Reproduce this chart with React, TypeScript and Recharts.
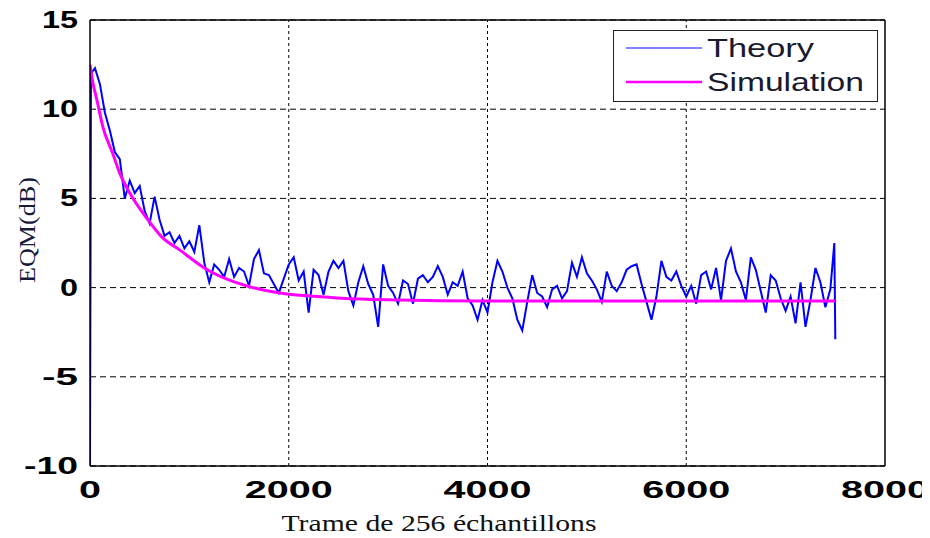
import React from "react";
import { LineChart, Line, XAxis, YAxis, CartesianGrid, ReferenceLine, Legend } from "recharts";

// Theory curve (noisy)
const theoryX = [
  0, 10, 50, 100, 150, 200, 250, 300, 350, 400, 450, 500, 550, 600, 650, 700, 750, 800, 850, 900,
  950, 1000, 1050, 1100, 1150, 1200, 1250, 1300, 1350, 1400, 1450, 1500, 1550, 1600, 1650, 1700,
  1750, 1800, 1850, 1900, 1950, 2000, 2050, 2100, 2150, 2200, 2250, 2300, 2350, 2400, 2450, 2500,
  2550, 2600, 2650, 2700, 2750, 2800, 2850, 2900, 2950, 3000, 3050, 3100, 3150, 3200, 3250, 3300,
  3350, 3400, 3450, 3500, 3550, 3600, 3650, 3700, 3750, 3800, 3850, 3900, 3950, 4000, 4050, 4100,
  4150, 4200, 4250, 4300, 4350, 4400, 4450, 4500, 4550, 4600, 4650, 4700, 4750, 4800, 4850, 4900,
  4950, 5000, 5050, 5100, 5150, 5200, 5250, 5300, 5350, 5400, 5450, 5500, 5550, 5600, 5650, 5700,
  5750, 5800, 5850, 5900, 5950, 6000, 6050, 6100, 6150, 6200, 6250, 6300, 6350, 6400, 6450, 6500,
  6550, 6600, 6650, 6700, 6750, 6800, 6850, 6900, 6950, 7000, 7050, 7100, 7150, 7200, 7250, 7300,
  7350, 7400, 7450, 7490, 7500,
];
const theoryY = [
  -10, 12.0, 12.3, 11.4, 9.8, 8.8, 7.6, 7.2, 5.0, 6.0, 5.3, 5.7, 4.3, 3.6, 5.1, 3.8, 2.9, 3.1, 2.5, 2.9,
  2.2, 2.6, 2.0, 3.5, 1.4, 0.3, 1.3, 1.0, 0.6, 1.6, 0.6, 1.1, 0.9, 0.1, 1.6, 2.1,
  0.8, 0.7, 0.2, -0.3, 0.5, 1.3, 1.7, 0.4, 0.9, -1.4, 1.0, 0.7, -0.4, 0.9, 1.5, 1.1,
  1.5, -0.2, -1.0, 0.3, 1.2, 0.2, -0.4, -2.2, 1.3, 0.1, -0.3, -0.9, 0.4, 0.2, -0.9, 0.5,
  0.7, 0.3, 0.6, 1.2, 0.6, -0.4, 0.3, 0.1, 0.9, -0.6, -1.0, -1.8, -0.7, -1.4, 0.3, 1.5,
  0.9, 0.0, -0.6, -1.8, -2.4, -0.8, 0.7, -0.3, -0.5, -1.1, -0.1, 0.1, -0.6, -0.2, 1.4, 0.6,
  1.7, 0.8, 0.4, -0.1, -0.8, 0.9, 0.1, -0.2, 0.3, 1.0, 1.2, 1.3, 0.2, -0.8, -1.8, -0.5,
  1.5, 0.6, 0.4, 0.9, 0.1, -0.5, 0.1, -0.9, 0.7, 0.9, -0.1, 1.1, -0.7, 1.5, 2.2, 0.9,
  0.3, -0.7, 1.7, 1.0, -0.2, -1.4, 0.7, 0.4, -0.6, -1.3, -0.5, -2.0, 0.3, -2.2, -0.7, 1.1,
  0.3, -1.1, -0.1, 2.5, -2.9,
];

// Simulation curve (smooth decay)
const simX = [0, 25, 70, 130, 230, 300, 400, 570, 730, 905, 1180, 1410, 1640, 1910, 2290, 2530, 3120, 3920, 7500];
const simY = [12.5, 11.6, 10.5, 9.0, 7.5, 6.4, 5.3, 3.9, 2.8, 2.1, 1.0, 0.4, 0.0, -0.3, -0.5, -0.6, -0.7, -0.75, -0.75];

const xTicks = [0, 2000, 4000, 6000, 8000];
const yTicks = [-10, -5, 0, 5, 10, 15];

const theoryData = theoryX.map((x, i) => ({ x, theory: theoryY[i] }));
const simData = simX.map((x, i) => ({ x, simulation: simY[i] }));

const tickFont = "Arial, 'Liberation Sans', sans-serif";
const serifFont = "'Liberation Serif', 'Times New Roman', serif";

const XTick = ({ x, y, payload }: any) => {
  const s = String(payload.value);
  return (
    <text x={x} y={y} dy={24} textAnchor="middle" fontFamily={tickFont} fontWeight="bold" fontSize={23}
      fill="#000" textLength={s.length * 22} lengthAdjust="spacingAndGlyphs">
      {s}
    </text>
  );
};

const YTick = ({ x, y, payload }: any) => {
  const s = String(payload.value);
  return (
    <text x={x - 4} y={y} dy={8} textAnchor="end" fontFamily={tickFont} fontWeight="bold" fontSize={23}
      fill="#000" textLength={s.length * 18} lengthAdjust="spacingAndGlyphs">
      {s}
    </text>
  );
};

const LegendBox = () => (
  <div style={{ width: 265, height: 72, border: "1.5px solid #222", background: "#fff", boxSizing: "border-box" }}>
    <svg width={262} height={69}>
      <line x1={12} x2={88} y1={17} y2={17} stroke="#0000ff" strokeWidth={1.2} />
      <text x={93} y={26} fontFamily={tickFont} fontSize={25} fill="#1a1a2e" textLength={107} lengthAdjust="spacingAndGlyphs">Theory</text>
      <line x1={12} x2={88} y1={51} y2={51} stroke="#ff00ff" strokeWidth={2.5} />
      <text x={93} y={60} fontFamily={tickFont} fontSize={25} fill="#1a1a2e" textLength={157} lengthAdjust="spacingAndGlyphs">Simulation</text>
    </svg>
  </div>
);

export default function App() {
  return (
    <div style={{ width: 914, height: 530, background: "#fff" }}>
      <LineChart width={914} height={530} margin={{ top: 12, right: 37, bottom: 32, left: 0 }}>
        <CartesianGrid stroke="#000" strokeDasharray="6 4" vertical={false} />
        {[2000, 4000, 6000].map((v) => (
          <ReferenceLine key={v} x={v} stroke="#000" strokeDasharray="3 3" />
        ))}
        <ReferenceLine y={15} stroke="#000" strokeWidth={1.5} />
        <ReferenceLine x={8000} stroke="#000" strokeWidth={1.5} />
        <XAxis
          dataKey="x"
          type="number"
          domain={[0, 8000]}
          ticks={xTicks}
          tick={<XTick />}
          tickLine={false}
          axisLine={{ stroke: "#000", strokeWidth: 1.5 }}
          height={40}
          allowDataOverflow
          label={() => (
            <text x={431} y={523} textAnchor="middle" fontFamily={serifFont}
              fontSize={24} fill="#111" textLength={315} lengthAdjust="spacingAndGlyphs">
              Trame de 256 échantillons
            </text>
          )}
        />
        <YAxis
          type="number"
          domain={[-10, 15]}
          ticks={yTicks}
          tick={<YTick />}
          tickLine={false}
          axisLine={{ stroke: "#000", strokeWidth: 1.5 }}
          width={82}
          allowDataOverflow
          label={() => (
            <text x={0} y={0} transform="translate(27,222) rotate(-90)" textAnchor="middle"
              fontFamily={serifFont} fontSize={24} fill="#1a1a3a"
              textLength={106} lengthAdjust="spacingAndGlyphs">
              EQM(dB)
            </text>
          )}
        />
        <Legend
          layout="vertical"
          align="center"
          verticalAlign="middle"
          content={<LegendBox />}
          wrapperStyle={{ position: "absolute", left: 605, top: 22, width: 265, height: 72 }}
        />
        <Line data={theoryData} dataKey="theory" name="Theory" type="linear" stroke="#0000ff"
          strokeWidth={2} dot={false} isAnimationActive={false} />
        <Line data={simData} dataKey="simulation" name="Simulation" type="monotone" stroke="#ff00ff"
          strokeWidth={3} dot={false} isAnimationActive={false} />
      </LineChart>
    </div>
  );
}
